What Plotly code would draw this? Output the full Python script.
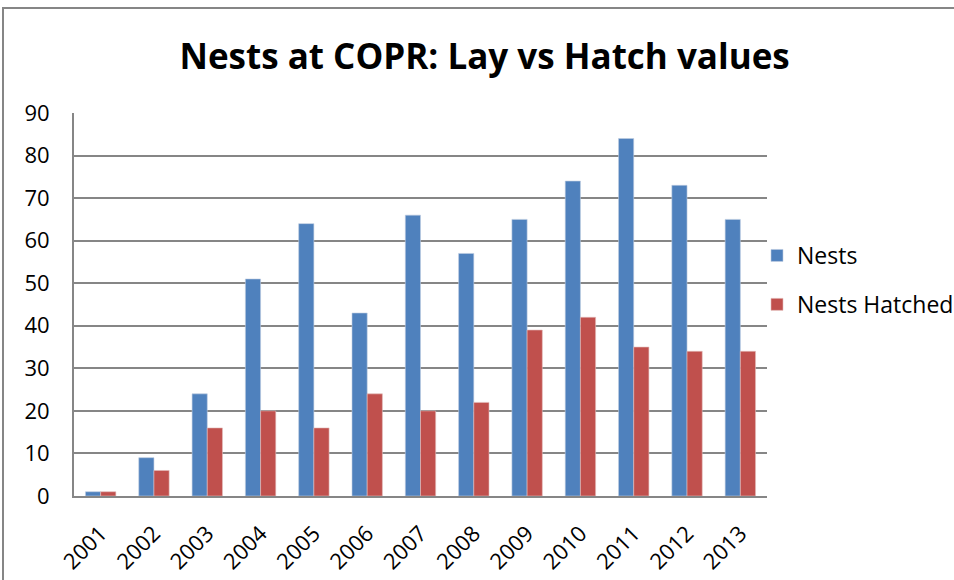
import plotly.graph_objects as go

years = ["2001", "2002", "2003", "2004", "2005", "2006", "2007",
         "2008", "2009", "2010", "2011", "2012", "2013"]
nests = [1, 9, 24, 51, 64, 43, 66, 57, 65, 74, 84, 73, 65]
nests_hatched = [1, 6, 16, 20, 16, 24, 20, 22, 39, 42, 35, 34, 34]

FONT = "Open Sans"

fig = go.Figure()
fig.add_trace(go.Bar(x=years, y=nests, name="Nests", legendgroup="a",
                     marker=dict(color="#4F81BD", line=dict(color="#BFCCE0", width=0.6))))
fig.add_trace(go.Bar(x=years, y=nests_hatched, name="Nests Hatched", legendgroup="b",
                     marker=dict(color="#C0504D", line=dict(color="#E3BDBC", width=0.6))))

L, R, T, B = 74, 767, 113, 496
W, H = 954, 580

def px_x(p):
    return (p - L) / (R - L)

def px_y(p):
    return (B - p) / (B - T)

fig.update_layout(
    width=W, height=H,
    margin=dict(l=L, r=W - R, t=T, b=H - B, autoexpand=False),
    paper_bgcolor="white", plot_bgcolor="white",
    barmode="group", bargap=0.43, bargroupgap=0.0,
    font=dict(family=FONT, color="black", size=22),
    title=dict(text="<b>Nests at COPR: Lay vs Hatch values</b>",
               x=0.508, xanchor="center", y=1 - 57 / H, yanchor="middle",
               font=dict(family=FONT, size=35, color="black")),
    xaxis=dict(tickangle=-45, showgrid=False, showline=True,
               linecolor="#868686", linewidth=2, ticks="",
               tickfont=dict(size=22), fixedrange=True,
               ticklabelstandoff=14),
    yaxis=dict(range=[0, 90], dtick=10, showgrid=True, gridcolor="#868686",
               gridwidth=1.5, showline=True, linecolor="#868686", linewidth=2,
               ticks="", zeroline=False, tickfont=dict(size=22),
               ticklabelstandoff=18, fixedrange=True),
    legend=dict(x=px_x(757), y=px_y(280), xanchor="left", yanchor="middle",
                font=dict(size=23), tracegroupgap=16, traceorder="grouped",
                bgcolor="rgba(0,0,0,0)"),
    showlegend=True,
)

fig.add_shape(type="rect", xref="paper", yref="paper",
              x0=px_x(3), x1=px_x(1000), y0=px_y(620), y1=px_y(8),
              line=dict(color="#868686", width=2), layer="below")

fig.write_html("out.html", config={"displayModeBar": False},
               post_script="document.body.style.margin='0';document.body.style.overflow='hidden';")
